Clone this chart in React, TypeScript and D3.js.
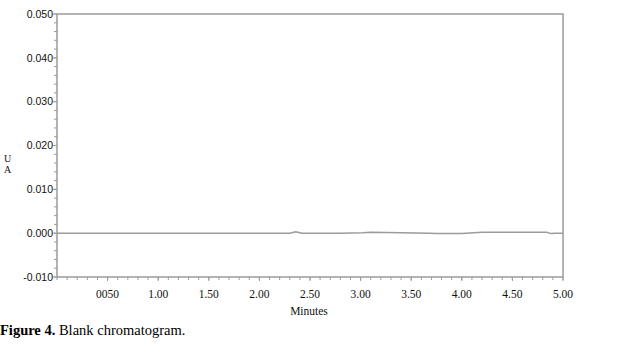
import React from "react";
import * as d3 from "d3";

const times = [0, 0.5, 1.0, 1.5, 2.0, 2.3, 2.36, 2.42, 2.5, 2.8, 3.02, 3.1, 3.4, 3.68, 3.75, 4.0, 4.2, 4.3, 4.6, 4.84, 4.88, 4.93, 5.0];
const values = [0, 0, 0, 0, 0, 0, 0.0003, 0, 0, 0, 0.0001, 0.0002, 0.0001, 0, -0.0001, -0.0001, 0.0002, 0.0002, 0.0002, 0.0002, -0.0001, 0, 0];
const xTickLabels = ["0050", "1.00", "1.50", "2.00", "2.50", "3.00", "3.50", "4.00", "4.50", "5.00"];
const xTickValues = [0.5, 1, 1.5, 2, 2.5, 3, 3.5, 4, 4.5, 5];
const yTickLabels = ["0.050", "0.040", "0.030", "0.020", "0.010", "0.000", "-0.010"];
const yTickValues = [0.05, 0.04, 0.03, 0.02, 0.01, 0, -0.01];

export default function App() {
  const left = 57, right = 563, top = 14, bottom = 277;
  const x = d3.scaleLinear().domain([0, 5]).range([left, right]);
  const y = d3.scaleLinear().domain([-0.01, 0.05]).range([bottom, top]);
  const gray = "#9b9b9b";
  const line = d3.line<number>().x((d, i) => x(times[i])).y((d) => y(d));
  const minorX = d3.range(0, 51).map((i) => i / 10);
  const minorY = d3.range(-5, 26).map((i) => i * 0.002);
  const serif = "Liberation Serif, Times New Roman, serif";
  return (
    <svg width={620} height={346} style={{ position: "absolute", left: 0, top: 0, background: "#fff" }}>
      <rect x={0} y={0} width={620} height={346} fill="#fff" />
      {minorY.map((v, i) => (
        <line key={"my" + i} x1={left - 3} x2={left} y1={y(v)} y2={y(v)} stroke={gray} strokeWidth={1} />
      ))}
      {yTickValues.map((v, i) => (
        <g key={"y" + i}>
          <line x1={left - 4} x2={left} y1={y(v)} y2={y(v)} stroke={gray} strokeWidth={1} />
          <text x={left - 4} y={y(v)} dy="0.35em" textAnchor="end" fontFamily="Liberation Sans, Arial, sans-serif" fontSize={10.5} fill="#111">
            {yTickLabels[i]}
          </text>
        </g>
      ))}
      {minorX.map((v, i) => (
        <line key={"mx" + i} x1={x(v)} x2={x(v)} y1={bottom} y2={bottom + 3} stroke={gray} strokeWidth={1} />
      ))}
      {xTickValues.map((v, i) => (
        <g key={"x" + i}>
          <line x1={x(v)} x2={x(v)} y1={bottom} y2={bottom + 4} stroke={gray} strokeWidth={1} />
          <text x={x(v)} y={298} textAnchor="middle" fontFamily={serif} fontSize={11.5} fill="#111">
            {xTickLabels[i]}
          </text>
        </g>
      ))}
      <rect x={left} y={top} width={right - left} height={bottom - top} fill="none" stroke={gray} strokeWidth={1.5} />
      <path d={line(values) || ""} fill="none" stroke={gray} strokeWidth={1.5} />
      <text x={4} y={162} fontFamily={serif} fontSize={10} fill="#111">U</text>
      <text x={4} y={173} fontFamily={serif} fontSize={10} fill="#111">A</text>
      <text x={309} y={315} textAnchor="middle" fontFamily={serif} fontSize={11.5} fill="#111">Minutes</text>
      <text x={0} y={335} fontFamily={serif} fontSize={14.5} fill="#000">
        <tspan fontWeight="bold">Figure 4.</tspan>
        <tspan> Blank chromatogram.</tspan>
      </text>
    </svg>
  );
}
